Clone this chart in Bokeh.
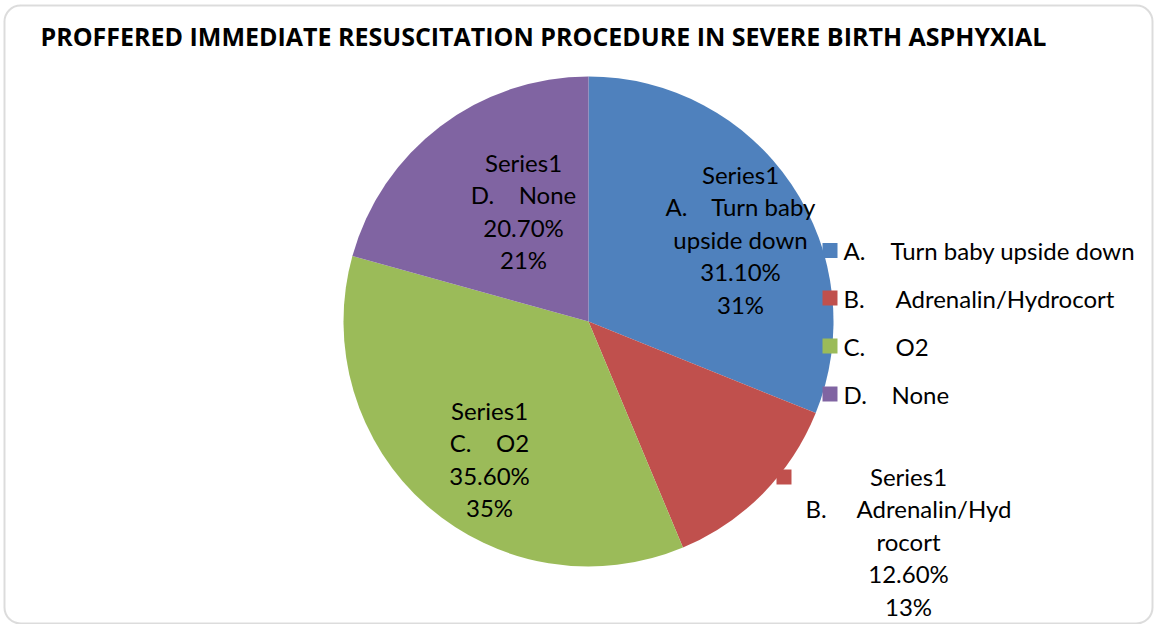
import math
from bokeh.plotting import figure
from bokeh.models import Range1d, BoxAnnotation, ColumnDataSource
from bokeh.core.properties import value
from bokeh.embed import file_html
from bokeh.resources import INLINE

# ---------------- data ----------------
title = "PROFFERED IMMEDIATE RESUSCITATION PROCEDURE IN SEVERE BIRTH ASPHYXIAL"
series_name = "Series1"
letters = ["A.", "B.", "C.", "D."]
categories = ["Turn baby upside down", "Adrenalin/Hydrocort", "O2", "None"]
percent_values = [31.10, 12.60, 35.60, 20.70]
percent_rounded = [31, 13, 35, 21]
NB = "\u00a0"
label_category_lines = [["A." + NB * 4 + "Turn baby", "upside down"],
                        ["B." + NB * 5 + "Adrenalin/Hyd", "rocort"],
                        ["C." + NB * 4 + "O2"],
                        ["D." + NB * 4 + "None"]]
colors = ["#4F81BD", "#C0504D", "#9BBB59", "#8064A2"]

# ---------------- layout ----------------
W, H = 1154, 624
FONT = "Lato"
FS = "24px"


def X(px):
    return px


def Y(py):
    return H - py


p = figure(width=W, height=H, output_backend="svg", toolbar_location=None,
           x_range=Range1d(0, W), y_range=Range1d(0, H), min_border=0)
p.axis.visible = False
p.grid.visible = False
p.outline_line_color = None
p.background_fill_color = "white"
p.border_fill_color = "white"

# rounded chart border
p.add_layout(BoxAnnotation(left=4, right=W - 2, bottom=1, top=H - 5, fill_color=None,
                           line_color="#8a8a8a", line_width=2, border_radius=16))

# title
p.text(x=[X(40)], y=[Y(35)], text=[title], text_font=value("Open Sans"), text_font_style="bold",
       text_font_size="25px", text_align="left", text_baseline="middle", text_color="black")

# pie
cx, cy, r = X(588), Y(321), 245
total = sum(percent_values)
starts, ends = [], []
cum = 0.0
for v in percent_values:
    starts.append(math.radians(90 - cum / total * 360))
    cum += v
    ends.append(math.radians(90 - cum / total * 360))
src = ColumnDataSource(dict(start=starts, end=ends, color=colors))
p.wedge(x=cx, y=cy, radius=r, start_angle="start", end_angle="end", direction="clock",
        fill_color="color", line_color=None, source=src)

# data labels: (centre x, first line y) in pixels
label_px = [(740, 174), (908, 476), (489, 410), (523, 162)]
LINE = 32.4
lx, ly, lt = [], [], []
for (ax, ay), cat_lines, pv, pr in zip(label_px, label_category_lines, percent_values, percent_rounded):
    lines = [series_name] + cat_lines + [f"{pv:.2f}%", f"{pr}%"]
    for i, t in enumerate(lines):
        lx.append(X(ax))
        ly.append(Y(ay + i * LINE))
        lt.append(t)
p.text(x=lx, y=ly, text=lt, text_font=value(FONT), text_font_size=FS, text_align="center",
       text_baseline="middle", text_color="black")

# legend key inside the outside label (B)
p.scatter(x=[X(783.5)], y=[Y(476.5)], marker="square", size=15, fill_color=colors[1], line_color=None)

# legend
leg_y = [250, 297.5, 345.5, 393.5]
name_x = [890, 895, 895, 891]
p.scatter(x=[X(829.5)] * 4, y=[Y(v) for v in leg_y], marker="square", size=15,
          fill_color=colors, line_color=None)
p.text(x=[X(843)] * 4, y=[Y(v) for v in leg_y], text=letters, text_font=value(FONT),
       text_font_size=FS, text_align="left", text_baseline="middle", text_color="black")
p.text(x=[X(v) for v in name_x], y=[Y(v) for v in leg_y], text=categories, text_font=value(FONT),
       text_font_size=FS, text_align="left", text_baseline="middle", text_color="black")

open("out.html", "w").write(file_html(p, INLINE))
